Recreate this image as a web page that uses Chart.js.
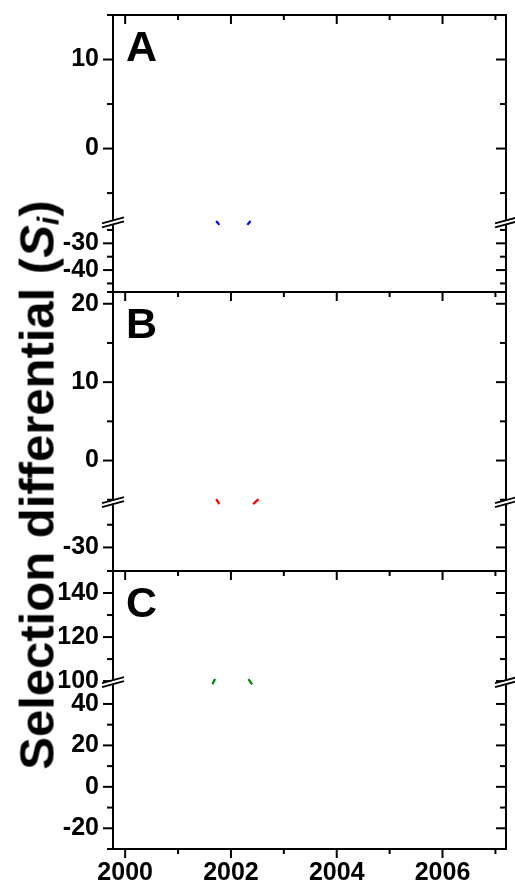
<!DOCTYPE html>
<html>
<head>
<meta charset="utf-8">
<script src="https://cdn.jsdelivr.net/npm/chart.js@4/dist/chart.umd.min.js"></script>
<style>
html,body{margin:0;padding:0;background:#fff;}
#wrap{position:relative;width:515px;height:888px;overflow:hidden;background:#fff;}
.pn{position:absolute;left:0;width:515px;}
.pn canvas{display:block;}
#ytitle{position:absolute;left:38px;top:485px;transform:translate(-50%,-50%) rotate(-90deg);white-space:nowrap;
  font:bold 49px "Liberation Sans", Arial, sans-serif;color:#000;line-height:1;}
#ytitle sub{font-size:0.62em;vertical-align:-0.18em;}
</style>
</head>
<body>
<div id="wrap">
  <div class="pn" style="top:0;height:300px"><canvas id="A" width="515" height="300" style="width:515px;height:300px"></canvas></div>
  <div class="pn" style="top:284px;height:296px"><canvas id="B" width="515" height="296" style="width:515px;height:296px"></canvas></div>
  <div class="pn" style="top:563px;height:325px"><canvas id="C" width="515" height="325" style="width:515px;height:325px"></canvas></div>
  <div id="ytitle">Selection differential (<i>S<sub>i</sub></i>)</div>
</div>
<script>
// ---------- data ----------
const years = [2000, 2001, 2002, 2003, 2004, 2005, 2006, 2007];
const yearLabels = [2000, 2002, 2004, 2006];

// Panel A (blue)
const aX = [2001.72, 2001.78, 2002.05, 2002.31, 2002.37];
const aY = [-8.13, -23.1, null, -23.1, -8.13];
const aMajorTicks = [-40, -30, 0, 10];
const aMinorTicks = [-45, -35, -25, -5, 5];

// Panel B (red)
const bX = [2001.72, 2001.78, 2002.1, 2002.42, 2002.52];
const bY = [-4.92, -20.44, null, -20.44, -4.92];
const bMajorTicks = [-30, 0, 10, 20];
const bMinorTicks = [-25, -5, 5, 15];

// Panel C (green)
const cX = [2001.65, 2001.70, 2002.0, 2002.33, 2002.40];
const cY = [49.5, 100.9, null, 100.9, 49.5];
const cMajorTicks = [-20, 0, 20, 40, 100, 120, 140];
const cMinorTicks = [-10, 10, 30, 110, 130];

// ---------- broken axis scale ----------
const panelCfg = {
  A: {letter:'A', color:'#0000ff', xs:aX, ys:aY, major:aMajorTicks, minor:aMinorTicks,
      brk:{lowMin:-48.2, lowMax:-22.2, highMin:-8.3, highMax:15, lowFrac:0.251}, bottomAxis:false,
      pad:{left:0,right:9,top:15,bottom:8}},
  B: {letter:'B', color:'#ff0000', xs:bX, ys:bY, major:bMajorTicks, minor:bMinorTicks,
      brk:{lowMin:-35.2, lowMax:-20, highMin:-5.3, highMax:21.5, lowFrac:0.247}, bottomAxis:false,
      pad:{left:0,right:9,top:8,bottom:9}},
  C: {letter:'C', color:'#008000', xs:cX, ys:cY, major:cMajorTicks, minor:cMinorTicks,
      brk:{lowMin:-30, lowMax:50.5, highMin:99.5, highMax:150, lowFrac:0.60}, bottomAxis:true,
      pad:{left:0,right:9,top:8,bottom:0}}
};

class BrokenScale extends Chart.LinearScale {
  static id = 'broken';
  static defaults = {};
  _cfg(){ return panelCfg[this.chart.canvas.id]; }
  determineDataLimits(){
    const b = this._cfg().brk;
    this.min = b.lowMin; this.max = b.highMax;
  }
  buildTicks(){
    const c = this._cfg();
    return c.major.concat(c.minor).sort((p,q)=>p-q).map(v=>({value:v, major:c.major.includes(v)}));
  }
  _breakPx(){
    const b = this._cfg().brk;
    return this.bottom - (this.bottom - this.top) * b.lowFrac;
  }
  getPixelForValue(v){
    const b = this._cfg().brk, t = this.top, bt = this.bottom, yb = this._breakPx();
    if (v >= b.highMin) return yb - (v - b.highMin) / (b.highMax - b.highMin) * (yb - t);
    if (v <= b.lowMax) return bt - (v - b.lowMin) / (b.lowMax - b.lowMin) * (bt - yb);
    return yb;
  }
  getValueForPixel(p){
    const b = this._cfg().brk, t = this.top, bt = this.bottom, yb = this._breakPx();
    if (p <= yb) return b.highMin + (yb - p) / (yb - t) * (b.highMax - b.highMin);
    return b.lowMin + (bt - p) / (bt - yb) * (b.lowMax - b.lowMin);
  }
}
Chart.register(BrokenScale);

// ---------- frame / ticks / breaks plugin ----------
const framePlugin = {
  id: 'frame',
  afterDraw(chart){
    const c = panelCfg[chart.canvas.id];
    const ctx = chart.ctx, a = chart.chartArea, xs = chart.scales.x, ys = chart.scales.y;
    const L = a.left, R = a.right, T = a.top, B = a.bottom;
    ctx.save();
    ctx.strokeStyle = '#000'; ctx.lineWidth = 2; ctx.lineCap = 'butt';
    const line = (x1,y1,x2,y2)=>{ctx.beginPath();ctx.moveTo(x1,y1);ctx.lineTo(x2,y2);ctx.stroke();};
    // frame
    line(L, T - 1, L, B + 1);
    line(R, T - 1, R, B + 1);
    line(L - 6, T, R, T);
    if (c.bottomAxis) line(L - 6, B, R, B);
    // y ticks (left outward, right inward)
    c.major.forEach(v=>{const y = ys.getPixelForValue(v); line(L - 10, y, L, y); line(R - 10, y, R, y);});
    c.minor.forEach(v=>{const y = ys.getPixelForValue(v); line(L - 6, y, L, y); line(R - 6, y, R, y);});
    // x ticks
    years.forEach(v=>{
      const x = xs.getPixelForValue(v), len = yearLabels.includes(v) ? 9 : 5;
      line(x, T, x, T + len);
      if (c.bottomAxis) line(x, B, x, B + len);
    });
    // axis breaks
    const yb = ys._breakPx();
    [L, R].forEach(X=>{
      ctx.fillStyle = '#fff';
      ctx.beginPath();
      ctx.moveTo(X - 11, yb + 1.5); ctx.lineTo(X + 11, yb - 4.5);
      ctx.lineTo(X + 11, yb - 1.5); ctx.lineTo(X - 11, yb + 4.5);
      ctx.closePath(); ctx.fill();
      ctx.lineWidth = 1.8;
      line(X - 11, yb + 1, X + 11, yb - 5);
      line(X - 11, yb + 5, X + 11, yb - 1);
    });
    // panel letter
    ctx.fillStyle = '#000';
    ctx.font = 'bold 43px "Liberation Sans", Arial, sans-serif';
    ctx.textBaseline = 'alphabetic'; ctx.textAlign = 'left';
    ctx.fillText(c.letter, L + 13, T + 46);
    ctx.restore();
  }
};

const tickFont = {family:'"Liberation Sans", Arial, sans-serif', size:25, weight:'bold'};

function makeChart(id){
  const c = panelCfg[id];
  const data = c.xs.map((x,i)=>({x:x, y:c.ys[i]}));
  return new Chart(document.getElementById(id), {
    type: 'line',
    data: {datasets: [{data: data, borderColor: c.color, borderWidth: 2.2, pointRadius: 0, spanGaps: false, tension: 0, fill: false}]},
    options: {
      responsive: false, maintainAspectRatio: false, animation: false, events: [],
      layout: {padding: c.pad},
      plugins: {legend: {display: false}, tooltip: {enabled: false}},
      scales: {
        x: {
          type: 'linear', min: 1999.77, max: 2007.2, display: c.bottomAxis,
          grid: {display: false, drawTicks: false}, border: {display: false},
          afterBuildTicks: s => { s.ticks = years.map(v=>({value:v})); },
          ticks: {autoSkip: false, maxRotation: 0, padding: 9, color: '#000', font: tickFont,
                  callback: v => yearLabels.includes(v) ? String(v) : ''},
          afterFit: s => { s.height = c.bottomAxis ? 39 : 0; s.paddingLeft = 0; s.paddingRight = 0; }
        },
        y: {
          type: 'broken', position: 'left',
          grid: {display: false, drawTicks: false}, border: {display: false},
          ticks: {autoSkip: false, padding: 14, color: '#000', font: tickFont,
                  callback: v => c.major.includes(v) ? String(v) : ''},
          afterFit: s => { s.width = 113; s.paddingTop = 0; s.paddingBottom = 0; }
        }
      }
    },
    plugins: [framePlugin]
  });
}
makeChart('A'); makeChart('B'); makeChart('C');
</script>
</body>
</html>
